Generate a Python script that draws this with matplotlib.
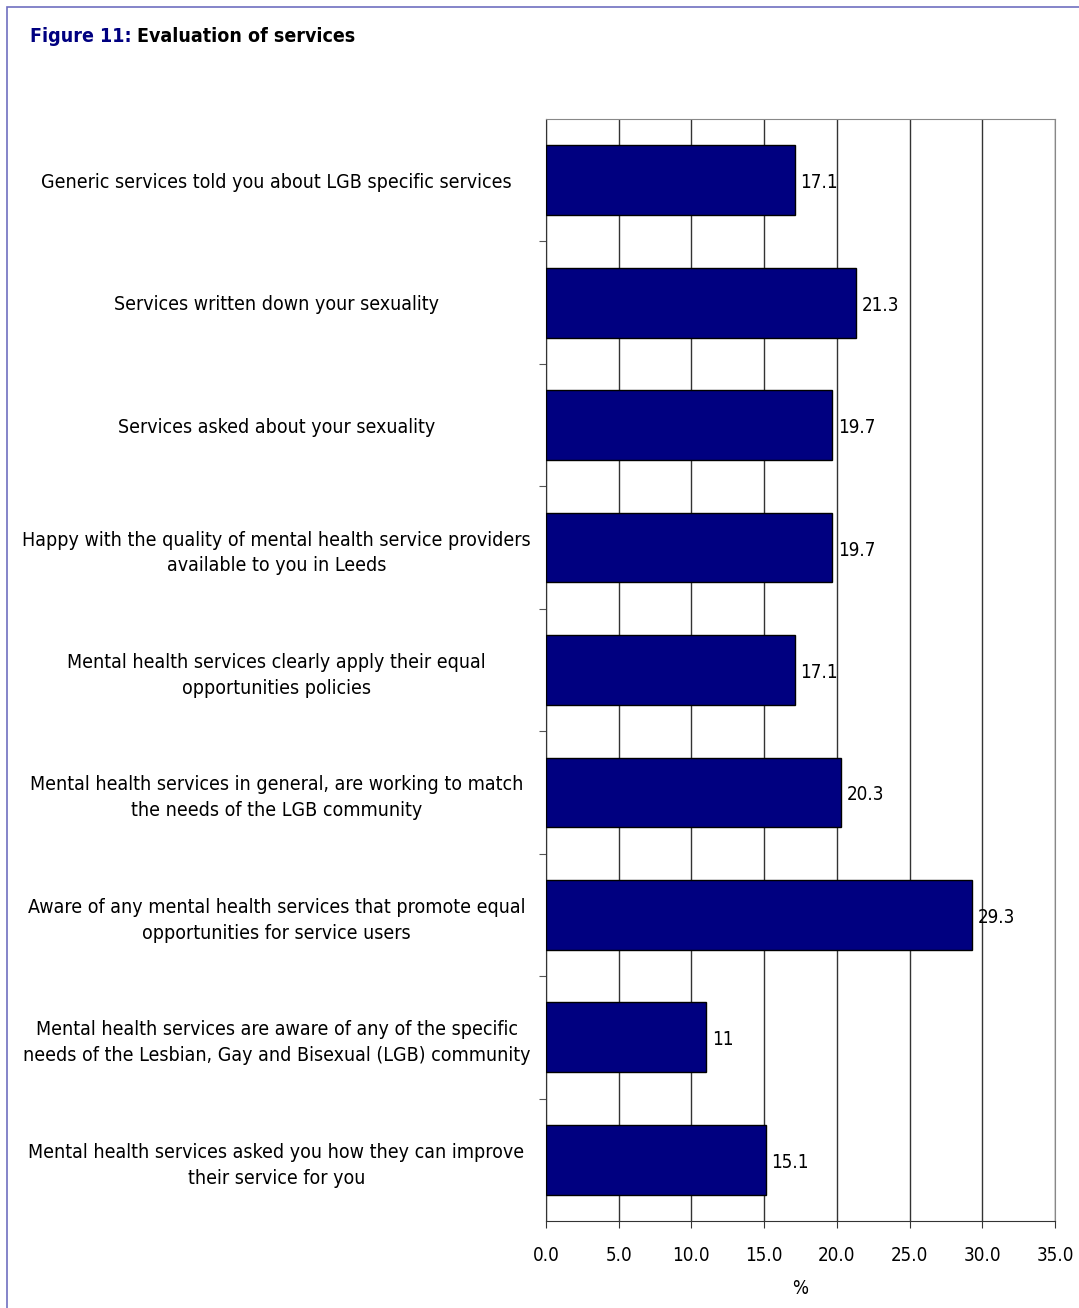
import matplotlib
matplotlib.use('Agg')
from matplotlib import pyplot as plt
from matplotlib.patches import Rectangle
import numpy as np

categories = [
    'Generic services told you about LGB specific services',
    'Services written down your sexuality',
    'Services asked about your sexuality',
    'Happy with the quality of mental health service providers\navailable to you in Leeds',
    'Mental health services clearly apply their equal\nopportunities policies',
    'Mental health services in general, are working to match\nthe needs of the LGB community',
    'Aware of any mental health services that promote equal\nopportunities for service users',
    'Mental health services are aware of any of the specific\nneeds of the Lesbian, Gay and Bisexual (LGB) community',
    'Mental health services asked you how they can improve\ntheir service for you',
]
values = [17.1, 21.3, 19.7, 19.7, 17.1, 20.3, 29.3, 11, 15.1]
value_labels = ['17.1', '21.3', '19.7', '19.7', '17.1', '20.3', '29.3', '11', '15.1']
x_ticks = [0, 5, 10, 15, 20, 25, 30, 35]

W, H = 1079, 1308
fig = plt.figure(figsize=(W / 100, H / 100), dpi=100)
font = dict(family='DejaVu Sans', stretch='condensed')

# rahmen um die figuur
fig.patches.append(Rectangle((7 / W, -0.01), 1.1, 1 - 7 / H + 0.01, transform=fig.transFigure,
                             fill=False, edgecolor='#7070c0', linewidth=1.2))

fig.text(30 / W, 1 - 36 / H, 'Figure 11:', color='#000080', fontsize=14, fontweight='bold',
         va='center', ha='left', **font)
fig.text(137 / W, 1 - 36 / H, 'Evaluation of services', color='black', fontsize=14,
         fontweight='bold', va='center', ha='left', **font)

left, right, top, bottom = 546, 1055, 119, 1221
ax = fig.add_axes([left / W, 1 - bottom / H, (right - left) / W, (bottom - top) / H])

y = np.arange(len(categories))
ax.barh(y, values, height=0.57, color='#000080', edgecolor='black', linewidth=1, zorder=3)
ax.set_ylim(len(categories) - 0.5, -0.5)
ax.set_xlim(0, 35)

for yi, v, lab in zip(y, values, value_labels):
    ax.text(v + 0.4, yi + 0.02, lab, va='center', ha='left', fontsize=13.5, zorder=4, **font)

ax.set_xticks(x_ticks)
ax.set_xticklabels([f'{t:.1f}' for t in x_ticks], fontsize=13.5, **font)
ax.set_xlabel('%', fontsize=13.5, labelpad=10, **font)
ax.xaxis.grid(True, color='#333333', linewidth=1, zorder=0)

ax.set_yticks(np.arange(len(categories) - 1) + 0.5)
ax.set_yticklabels([])
ax.set_yticks(y, minor=True)
ax.set_yticklabels(categories, minor=True, fontsize=14, ha='center', linespacing=1.45, **font)
ax.tick_params(axis='y', which='minor', length=0, pad=194)
ax.tick_params(axis='y', which='major', length=5, direction='out', color='#555555')
ax.tick_params(axis='x', length=5, direction='out', pad=13, color='#333333')

ax.spines['right'].set_color('#888888')
ax.spines['top'].set_color('#888888')
ax.spines['left'].set_color('#333333')
ax.spines['bottom'].set_color('#333333')

fig.savefig('out.png', dpi=100)
